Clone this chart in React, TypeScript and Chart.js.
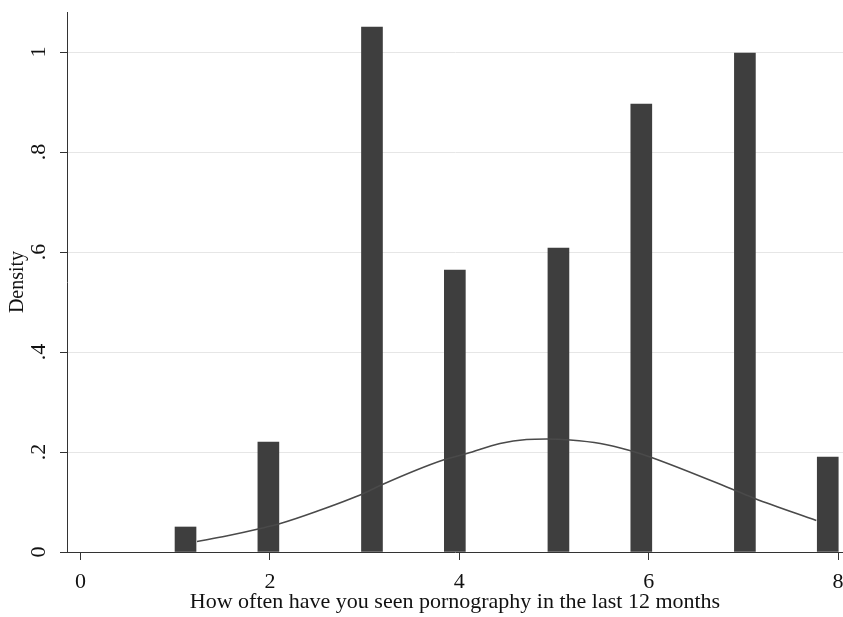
import React, { useEffect, useRef } from 'react';
import { Chart, registerables } from 'chart.js';

Chart.register(...registerables);

// Histogram bins (centres of 32 bins of width 7/32 between 1 and 8) and their densities
const binCenters = [1.109, 1.984, 3.078, 3.953, 5.047, 5.922, 7.016, 7.891];
const densities = [0.05, 0.22, 1.05, 0.564, 0.608, 0.896, 0.998, 0.19];

// Overlaid normal density curve
const curveX = [1.23, 1.54, 1.9, 2.11, 2.49, 2.99, 3.2, 3.83, 4.08, 4.43, 4.71, 4.92, 5.17, 5.49, 5.8, 6.03, 6.89, 7.12, 7.77];
const curveY = [0.021, 0.032, 0.047, 0.057, 0.081, 0.117, 0.136, 0.184, 0.197, 0.217, 0.225, 0.226, 0.224, 0.217, 0.203, 0.189, 0.125, 0.107, 0.063];

const xTicks = [0, 2, 4, 6, 8];
const xTickLabels = ['0', '2', '4', '6', '8'];
const yTicks = [0, 0.2, 0.4, 0.6, 0.8, 1];
const yTickLabels = ['0', '.2', '.4', '.6', '.8', '1'];

const xTitle = 'How often have you seen pornography in the last 12 months';
const yTitle = 'Density';

const FONT = '"Liberation Serif", "Times New Roman", serif';

export default function App() {
  const ref = useRef<HTMLCanvasElement | null>(null);

  useEffect(() => {
    if (!ref.current) return;
    const chart = new Chart(ref.current, {
      type: 'bar',
      data: {
        datasets: [
          {
            type: 'line',
            data: curveX.map((x, i) => ({ x, y: curveY[i] })),
            borderColor: '#4a4a4a',
            borderWidth: 1.6,
            pointRadius: 0,
            tension: 0.4,
            cubicInterpolationMode: 'monotone',
            order: 1,
          } as any,
          {
            type: 'bar',
            data: binCenters.map((x, i) => ({ x, y: densities[i] })),
            backgroundColor: '#3e3e3e',
            borderColor: '#333333',
            borderWidth: 0,
            barThickness: 21,
            order: 2,
          } as any,
        ],
      },
      options: {
        responsive: false,
        animation: false,
        layout: { padding: { top: 12, left: 0, right: 0, bottom: 0 } },
        plugins: { legend: { display: false }, tooltip: { enabled: false }, title: { display: false } },
        scales: {
          x: {
            type: 'linear',
            min: -0.1426,
            max: 8.052,
            offset: false,
            afterBuildTicks: (s: any) => {
              s.ticks = xTicks.map((v) => ({ value: v }));
            },
            afterFit: (s: any) => {
              s.height = 65;
              s.paddingLeft = 0;
              s.paddingRight = 0;
            },
            grid: { drawOnChartArea: false, drawTicks: true, tickLength: 8, tickColor: '#333', color: '#333', offset: false },
            border: { display: true, color: '#333', width: 1 },
            ticks: {
              autoSkip: false,
              maxRotation: 0,
              minRotation: 0,
              padding: 9,
              color: '#111',
              font: { family: FONT, size: 22 },
              callback: (v: any) => {
                const i = xTicks.indexOf(Number(v));
                return i >= 0 ? xTickLabels[i] : '';
              },
            },
            title: {
              display: true,
              text: xTitle,
              color: '#111',
              font: { family: FONT, size: 22 },
              padding: { top: 0, bottom: 2 },
            },
          },
          y: {
            type: 'linear',
            min: 0,
            max: 1.08,
            afterBuildTicks: (s: any) => {
              s.ticks = yTicks.map((v) => ({ value: v }));
            },
            afterFit: (s: any) => {
              s.width = 67;
              s.paddingTop = 0;
              s.paddingBottom = 0;
            },
            grid: {
              color: (ctx: any) => (ctx.tick && ctx.tick.value === 0 ? 'rgba(0,0,0,0)' : '#e6e6e6'),
              tickColor: '#333',
              tickLength: 7,
              drawTicks: true,
            },
            border: { display: true, color: '#333', width: 1 },
            ticks: {
              minRotation: 90,
              maxRotation: 90,
              crossAlign: 'center',
              padding: 13,
              color: '#111',
              font: { family: FONT, size: 22 },
              callback: (v: any) => {
                const i = yTicks.findIndex((t) => Math.abs(t - Number(v)) < 1e-9);
                return i >= 0 ? yTickLabels[i] : '';
              },
            },
            title: {
              display: true,
              text: yTitle,
              color: '#111',
              font: { family: FONT, size: 20 },
              padding: { top: 6, bottom: 0 },
            },
          },
        },
      } as any,
    });
    return () => chart.destroy();
  }, []);

  return (
    <div style={{ position: 'absolute', left: 0, top: 0, width: 843, height: 617, overflow: 'hidden', background: '#fff' }}>
      <canvas ref={ref} width={843} height={617} style={{ display: 'block' }} />
    </div>
  );
}
